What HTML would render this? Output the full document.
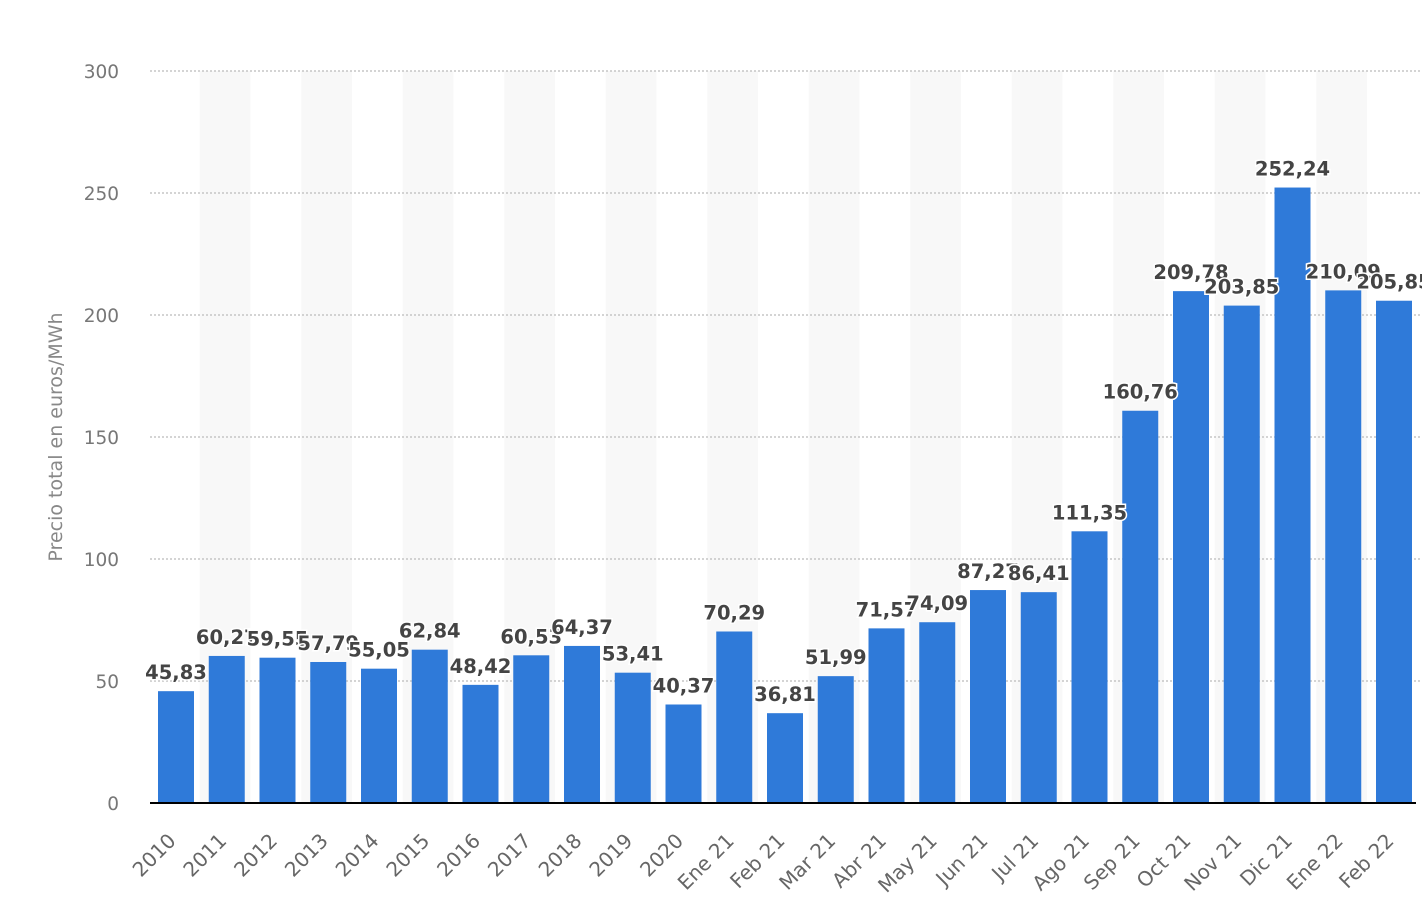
<!DOCTYPE html>
<html><head><meta charset="utf-8"><style>
html,body{margin:0;padding:0;background:#fff;}
svg{display:block;font-family:"DejaVu Sans","Liberation Sans",sans-serif;}
.lbl{font-size:19.5px;font-weight:bold;fill:#444;stroke:#fff;stroke-width:3px;paint-order:stroke;text-anchor:middle}
.xl{font-size:20px;fill:#666;text-anchor:end}
.yl{font-size:18.5px;fill:#777;text-anchor:end}
</style></head><body>
<svg width="1422" height="908" viewBox="0 0 1422 908">
<g id="bands"></g>
<g id="grid"></g>
<g id="bars"></g>
<line x1="150" y1="803" x2="1416" y2="803" stroke="#000" stroke-width="2"/>
<g id="labels"></g>
<text transform="translate(62,437) rotate(-90)" text-anchor="middle" font-size="19" fill="#888">Precio total en euros/MWh</text>
<script>
var ns="http://www.w3.org/2000/svg";
function el(p,t,a,txt){var e=document.createElementNS(ns,t);for(var k in a)e.setAttribute(k,a[k]);if(txt!=null)e.textContent=txt;document.getElementById(p).appendChild(e);return e;}
var cats=["2010","2011","2012","2013","2014","2015","2016","2017","2018","2019","2020","Ene 21","Feb 21","Mar 21","Abr 21","May 21","Jun 21","Jul 21","Ago 21","Sep 21","Oct 21","Nov 21","Dic 21","Ene 22","Feb 22"];
var vals=[45.83,60.27,59.55,57.79,55.05,62.84,48.42,60.53,64.37,53.41,40.37,70.29,36.81,51.99,71.57,74.09,87.27,86.41,111.35,160.76,209.78,203.85,252.24,210.09,205.85];
var step=50.75,y0=803,k=2.44;
for(var i=0;i<25;i++){
 var bs=148+step*i;
 if(i%2==1) el("bands","rect",{x:bs+1,y:71,width:step,height:732,fill:"#f8f8f8"});
}
for(var v=0;v<=300;v+=50){
 var y=y0-v*k;
 if(v>0) el("grid","line",{x1:150,y1:y,x2:1422,y2:y,stroke:"#bbb","stroke-width":1.2,"stroke-dasharray":"2,2"});
 el("labels","text",{x:119,y:y+7,"class":"yl"},String(v));
}
for(var i=0;i<25;i++){
 var x=158+step*i,h=vals[i]*k,cx=x+18;
 el("bars","rect",{x:x,y:y0-h,width:36,height:h,fill:"#2f7ad9"});
 var s=vals[i].toFixed(2).replace(".",",");
 el("labels","text",{x:cx,y:y0-h-12,"class":"lbl"},s);
 el("labels","text",{x:cx+1,y:842,"class":"xl",transform:"rotate(-45 "+(cx+1)+" 842)"},cats[i]);
}
</script>
</svg>
</body></html>
